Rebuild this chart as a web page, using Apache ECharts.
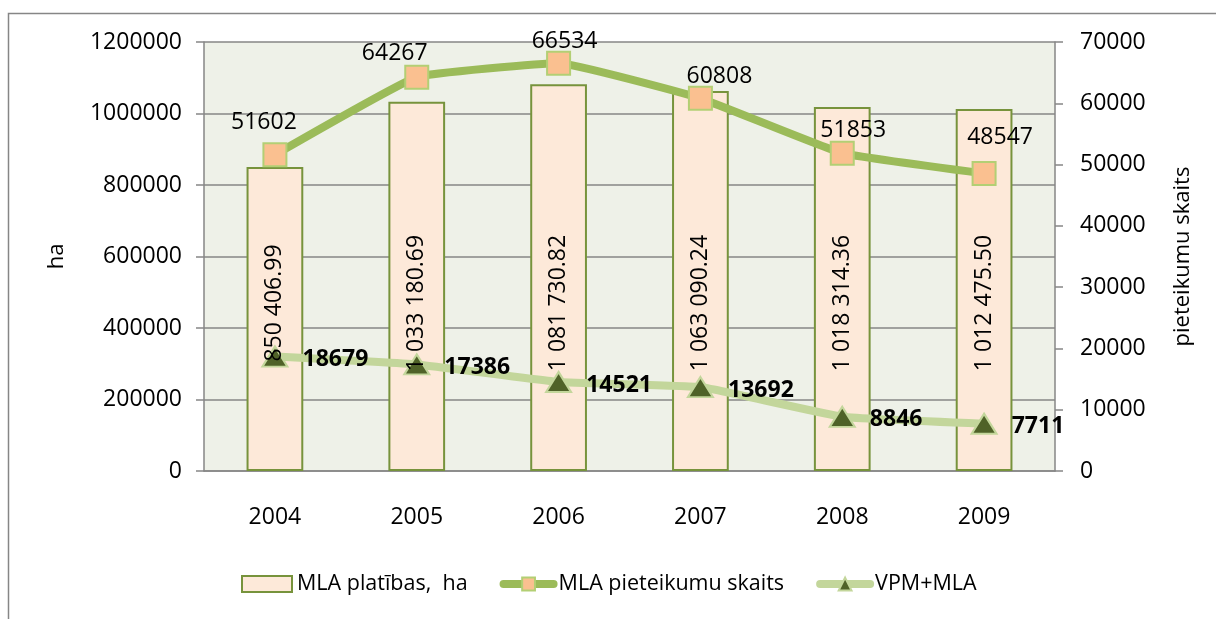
<!DOCTYPE html>
<html>
<head>
<meta charset="utf-8">
<script src="https://cdn.jsdelivr.net/npm/echarts@6/dist/echarts.min.js"></script>
<style>
  html, body { margin: 0; padding: 0; background: #fff; }
  #chart { width: 1216px; height: 619px; }
</style>
</head>
<body>
<div id="chart"></div>
<script>
const years = ['2004', '2005', '2006', '2007', '2008', '2009']
const mlaArea = [850406.99, 1033180.69, 1081730.82, 1063090.24, 1018314.36, 1012475.50]
const mlaApplications = [51602, 64267, 66534, 60808, 51853, 48547]
const vpmMla = [18679, 17386, 14521, 13692, 8846, 7711]

// labels of the applications line were hand-placed in the source chart
const mlaLabelOffsets = [[-11, -32], [-22, -24], [6, -22], [19, -22], [11, -23], [16, -36]]

const FONT = '"Open Sans", Lato, sans-serif'
const AXIS_GRAY = '#868686'

function formatArea(v) {
  const [intPart, dec] = v.toFixed(2).split('.')
  return intPart.replace(/\B(?=(\d{3})+(?!\d))/g, ' ') + '.' + dec
}

const chart = echarts.init(document.getElementById('chart'))

chart.setOption({
  animation: false,
  textStyle: { fontFamily: FONT, color: '#000' },
  graphic: [{
    type: 'rect',
    shape: { x: 8.5, y: 13.5, width: 1400, height: 800 },
    style: { fill: 'none', stroke: AXIS_GRAY, lineWidth: 1.5 },
    silent: true,
  }],
  grid: {
    left: 204, right: 161, top: 42, bottom: 148,
    show: true, backgroundColor: '#eef1e8', borderWidth: 0,
  },
  legend: {
    bottom: 19,
    left: 236,
    itemGap: 32,
    itemWidth: 50,
    itemHeight: 16,
    textStyle: { fontSize: 21.5, fontFamily: FONT, color: '#000' },
    data: [
      { name: 'MLA platības,  ha', icon: 'rect' },
      { name: 'MLA pieteikumu skaits', lineStyle: { width: 8, cap: 'round' } },
      { name: 'VPM+MLA', lineStyle: { width: 8, cap: 'round' } },
    ],
  },
  xAxis: {
    type: 'category',
    data: years,
    axisLine: { lineStyle: { color: AXIS_GRAY, width: 1.5 } },
    axisTick: { length: 8, lineStyle: { color: AXIS_GRAY, width: 1.5 } },
    axisLabel: { fontSize: 23, margin: 35, color: '#000' },
  },
  yAxis: [{
    type: 'value',
    min: 0, max: 1200000, interval: 200000,
    name: 'ha',
    nameLocation: 'middle',
    nameRotate: 90,
    nameGap: 136,
    nameTextStyle: { fontSize: 22, color: '#000' },
    axisLine: { show: true, lineStyle: { color: AXIS_GRAY, width: 1.5 } },
    axisTick: { show: true, length: 8, lineStyle: { color: AXIS_GRAY, width: 1.5 } },
    axisLabel: { fontSize: 23, margin: 22, color: '#000', formatter: v => String(v) },
    splitLine: { lineStyle: { color: AXIS_GRAY, width: 1.5 } },
  }, {
    type: 'value',
    min: 0, max: 70000, interval: 10000,
    name: 'pieteikumu skaits',
    nameLocation: 'middle',
    nameRotate: 90,
    nameGap: 117,
    nameTextStyle: { fontSize: 22, color: '#000' },
    position: 'right',
    axisLine: { show: true, lineStyle: { color: AXIS_GRAY, width: 1.5 } },
    axisTick: { show: true, length: 8, lineStyle: { color: AXIS_GRAY, width: 1.5 } },
    axisLabel: { fontSize: 23, margin: 25, color: '#000', formatter: v => String(v) },
    splitLine: { show: false },
  }],
  series: [{
    name: 'MLA platības,  ha',
    type: 'bar',
    yAxisIndex: 0,
    data: mlaArea,
    barWidth: '40%',
    itemStyle: { color: '#fde9d9', borderColor: '#77933c', borderWidth: 2 },
    z: 2,
  }, {
    // transparent twin of the bars, only to draw their labels above the lines
    name: 'barLabels',
    type: 'bar',
    yAxisIndex: 0,
    data: mlaArea,
    barWidth: '40%',
    barGap: '-100%',
    silent: true,
    itemStyle: { color: 'transparent', borderWidth: 0 },
    label: {
      show: true,
      position: 'insideBottom',
      distance: 168,
      rotate: 90,
      align: 'center',
      verticalAlign: 'middle',
      fontSize: 23,
      color: '#000',
      formatter: p => formatArea(p.value),
    },
    z: 10,
  }, {
    name: 'MLA pieteikumu skaits',
    type: 'line',
    yAxisIndex: 1,
    data: mlaApplications.map((v, i) => ({ value: v, label: { offset: mlaLabelOffsets[i] } })),
    smooth: 0.1,
    symbol: 'rect',
    symbolSize: 23,
    lineStyle: { color: '#9bbb59', width: 8 },
    itemStyle: { color: '#fac090', borderColor: '#b3cf74', borderWidth: 2 },
    label: { show: true, position: 'inside', fontSize: 23, color: '#000' },
    z: 4,
  }, {
    name: 'VPM+MLA',
    type: 'line',
    yAxisIndex: 1,
    data: vpmMla,
    smooth: 0.1,
    symbol: 'triangle',
    symbolSize: [25, 20],
    lineStyle: { color: '#c3d69b', width: 8 },
    itemStyle: { color: '#4f6228', borderColor: '#c3d69b', borderWidth: 2 },
    label: { show: true, position: 'right', distance: 14, offset: [0, 3], fontSize: 23, fontWeight: 'bold', color: '#000' },
    z: 3,
  }],
})

window.addEventListener('resize', () => chart.resize())
</script>
</body>
</html>
